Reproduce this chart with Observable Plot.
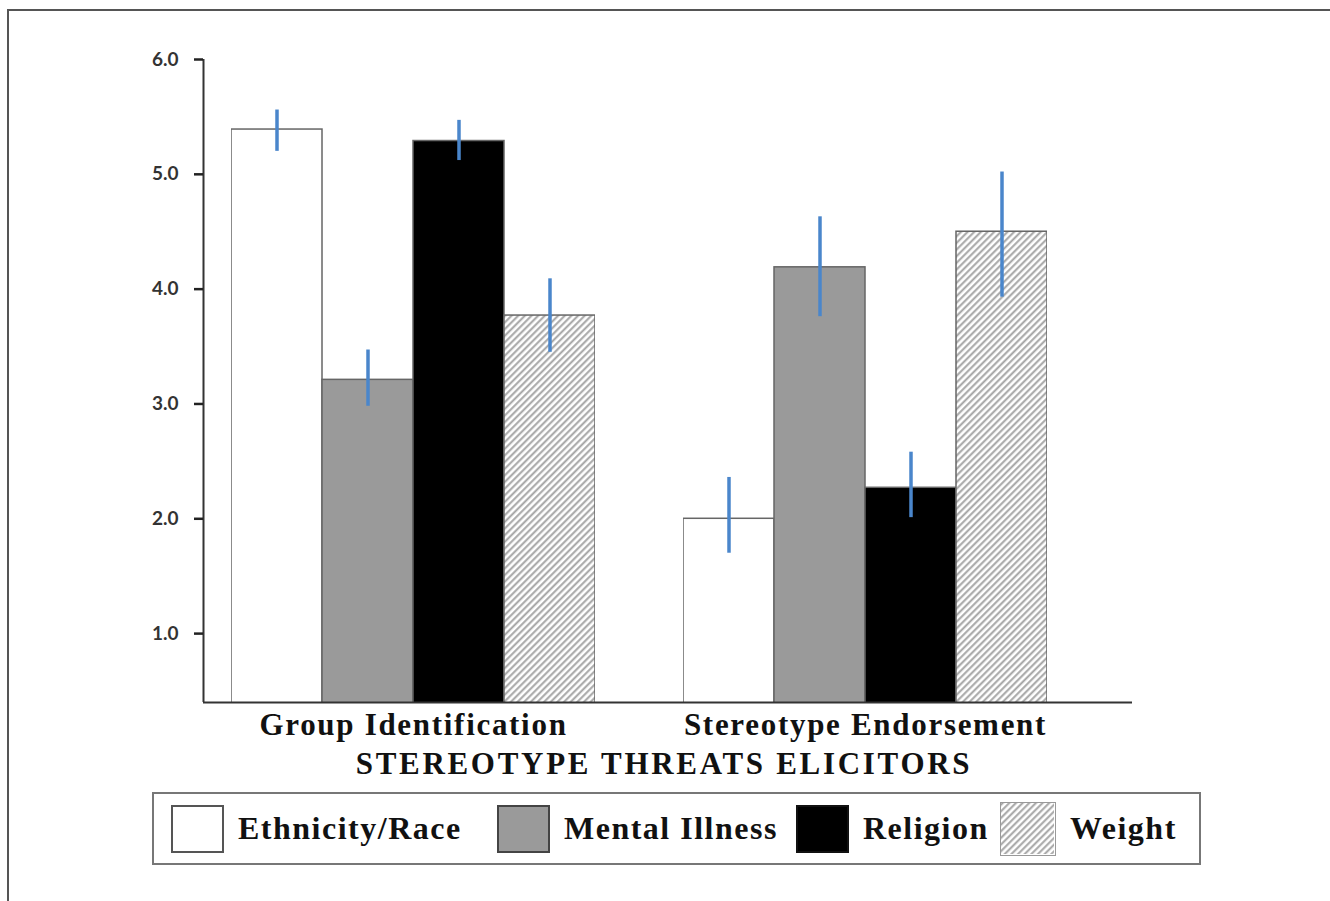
<!DOCTYPE html>
<html>
<head>
<meta charset="utf-8">
<script src="https://cdn.jsdelivr.net/npm/d3@7"></script>
<script src="https://cdn.jsdelivr.net/npm/@observablehq/plot@0.6"></script>
<style>
  body { margin: 0; background: #fff; }
  #wrap { position: relative; width: 1330px; height: 901px; overflow: hidden; background: #fff; }
  #frameBorder { position: absolute; left: 7px; top: 9px; width: 1340px; height: 900px;
    border-left: 2px solid #555; border-top: 2px solid #555; pointer-events: none; }
  #chart, #axes { position: absolute; left: 0; top: 0; }
  #xlabel { position: absolute; left: 264px; width: 800px; top: 744px; text-align: center;
    font-family: "Liberation Serif", serif; font-weight: bold; font-size: 31px; letter-spacing: 2.7px;
    color: #111; line-height: 40px; white-space: nowrap; }
  #legend { position: absolute; left: 152px; top: 792px; width: 1045px; height: 69px;
    border: 2px solid #777; background: #fff; }
  .item { position: absolute; top: 0; height: 69px; display: flex; align-items: center; }
  .sw { width: 53px; height: 48px; box-sizing: border-box; }
  .lab { margin-left: 14px; font-family: "Liberation Serif", serif; font-weight: bold;
    font-size: 32px; letter-spacing: 1.5px; color: #111; white-space: nowrap; }
</style>
</head>
<body>
<div id="wrap">
  <div id="chart"></div>
  <div id="axes"></div>
  <div id="xlabel"></div>
  <div id="legend"></div>
  <div id="frameBorder"></div>
</div>
<script>
// ---- data ----
const groups = ["Group Identification", "Stereotype Endorsement"];
const categories = ["Ethnicity/Race", "Mental Illness", "Religion", "Weight"];
const groupIdMeans = [5.39, 3.21, 5.29, 3.77];
const groupIdLow   = [5.20, 2.98, 5.12, 3.45];
const groupIdHigh  = [5.56, 3.47, 5.47, 4.09];
const endorseMeans = [2.00, 4.19, 2.27, 4.50];
const endorseLow   = [1.70, 3.76, 2.01, 3.93];
const endorseHigh  = [2.36, 4.63, 2.58, 5.02];
const yTicks = [1.0, 2.0, 3.0, 4.0, 5.0, 6.0];
const yDomain = [0.4, 6.0];
const xAxisTitle = "STEREOTYPE THREATS ELICITORS";

// ---- styles ----
const fills = ["#ffffff", "#9a9a9a", "#000000", "url(#hatch)"];
const swatchBorders = ["2px solid #555", "2px solid #444", "2px solid #111", "1.5px solid #999"];
const legendLefts = [17, 343, 642, 846];

const rows = [];
categories.forEach((c, i) => {
  rows.push({group: groups[0], category: c, mean: groupIdMeans[i], low: groupIdLow[i], high: groupIdHigh[i]});
});
categories.forEach((c, i) => {
  rows.push({group: groups[1], category: c, mean: endorseMeans[i], low: endorseLow[i], high: endorseHigh[i]});
});

const dims = {width: 1330, height: 745, marginLeft: 203, marginRight: 198, marginTop: 59, marginBottom: 43};

const chart = Plot.plot({
  ...dims,
  style: {background: "transparent"},
  fx: {domain: groups, paddingInner: 0.1947, paddingOuter: 0.1228, align: 0.252, label: null},
  x: {domain: categories, padding: 0, axis: null},
  y: {domain: yDomain, axis: null},
  color: {domain: categories, range: fills},
  marks: [
    Plot.barY(rows, {fx: "group", x: "category", y: "mean", fill: "category",
      stroke: "#666", strokeWidth: 1.5, clip: true}),
    Plot.ruleX(rows, {fx: "group", x: "category", y1: "low", y2: "high",
      stroke: "#4a86cb", strokeWidth: 3.5}),
    Plot.axisFx({anchor: "bottom", tickSize: 0, tickPadding: 10, fontSize: 31,
      fontFamily: "Liberation Serif, serif", fontWeight: "bold", fill: "#111", label: null})
  ]
});

// axes overlay (same y scale, un-faceted so lines span the whole frame)
const axes = Plot.plot({
  ...dims,
  style: {background: "transparent"},
  x: {domain: [0, 1], axis: null},
  y: {domain: yDomain, axis: null},
  marks: [
    Plot.ruleY([yDomain[0]], {stroke: "#333", strokeWidth: 2}),
    Plot.ruleX([0], {y1: yDomain[0], y2: yDomain[1], stroke: "#333", strokeWidth: 2}),
    Plot.axisY(yTicks, {anchor: "left", tickSize: 9, tickPadding: 16,
      tickFormat: d => d.toFixed(1), fontSize: 19, fontFamily: "Lato, sans-serif",
      fontWeight: "bold", fill: "#333", stroke: "#222", strokeWidth: 2.5, label: null})
  ]
});

// hatch pattern
const defs = d3.select(chart).insert("defs", ":first-child");
const pat = defs.append("pattern").attr("id", "hatch").attr("patternUnits", "userSpaceOnUse")
  .attr("width", 4.7).attr("height", 4.7).attr("patternTransform", "rotate(45)");
pat.append("rect").attr("width", 4.7).attr("height", 4.7).attr("fill", "#fff");
pat.append("line").attr("x1", 1.2).attr("y1", 0).attr("x2", 1.2).attr("y2", 4.7)
  .attr("stroke", "#a4a4a4").attr("stroke-width", 2);

d3.select(chart).selectAll('g[aria-label="fx-axis tick label"] text').style("letter-spacing", "1.7px");

document.getElementById("chart").appendChild(chart);
document.getElementById("axes").appendChild(axes);
document.getElementById("xlabel").textContent = xAxisTitle;

// legend
const legend = d3.select("#legend");
categories.forEach((c, i) => {
  const item = legend.append("div").attr("class", "item").style("left", legendLefts[i] + "px");
  const sw = item.append("div").attr("class", "sw").style("border", swatchBorders[i]);
  if (fills[i].startsWith("url")) {
    sw.style("width", "56px").style("height", "54px");
    const s = sw.append("svg").attr("width", 53).attr("height", 51).style("display", "block");
    s.append("rect").attr("width", 53).attr("height", 51).attr("fill", fills[i]);
  } else {
    sw.style("background", fills[i]);
  }
  item.append("div").attr("class", "lab").text(c);
});
</script>
</body>
</html>
